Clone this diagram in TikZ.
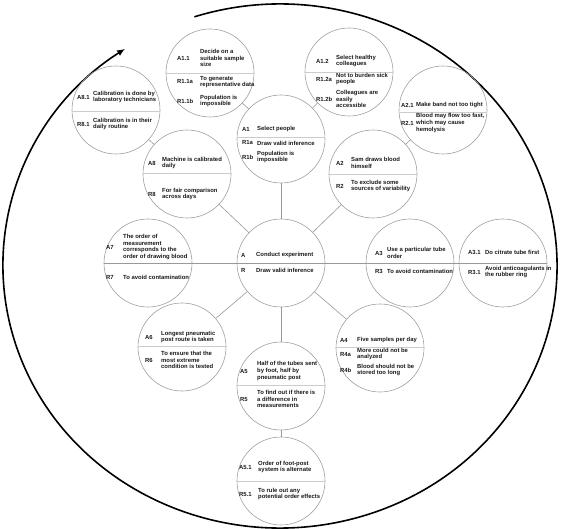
\documentclass[tikz,border=0pt]{standalone}
\usepackage{fontspec}
\setmainfont{Liberation Sans}
\usetikzlibrary{arrows.meta,calc}
\definecolor{circgray}{gray}{0.62}
\definecolor{conngray}{gray}{0.6}
\definecolor{divgray}{gray}{0.8}
\definecolor{txtcol}{gray}{0.1}
\newcommand\crow[7]{\path (#1.center) ++(#2,#4) node[lab] (#7l) {#5};
  \path (#1.center) ++(#3,#4) node[txt] (#7t) {#6};}
\newcommand\cdiv[2]{\begin{scope}\clip (#1.center) circle (44);
  \draw[div] ($(#1.center)+(-46,#2)$) -- ($(#1.center)+(46,#2)$);\end{scope}}
\begin{document}
\begin{tikzpicture}[x=1pt,y=1pt,
  circ/.style={circle,draw=circgray,line width=0.6pt,minimum size=88pt,inner sep=0pt},
  lab/.style={anchor=west,inner sep=0pt,font=\fontsize{5.9}{6.6}\selectfont\bfseries,text=txtcol},
  txt/.style={lab,align=left},
  conn/.style={draw=conngray,line width=0.6pt},
  div/.style={draw=divgray,line width=0.6pt}]
\useasboundingbox (0,0) rectangle (562,528);
% outer arc
\coordinate (oc) at (280,262);
\draw[line width=1.6pt,-{Latex[length=8pt,width=6.5pt]}] (oc) ++(108:277 and 262)
  arc[start angle=108,end angle=-236,x radius=277,y radius=262];
% circles
\node[circ] (C0) at (281,265) {};
\node[circ] (A1) at (281,389) {};
\node[circ] (A11) at (210,455) {};
\node[circ] (A12) at (349,456) {};
\node[circ] (A81) at (116,418) {};
\node[circ] (A8) at (187,354) {};
\node[circ] (A2) at (373,354) {};
\node[circ] (A21) at (443,418) {};
\node[circ] (A7) at (148,265) {};
\node[circ] (A3) at (410,265) {};
\node[circ] (A31) at (503,265) {};
\node[circ] (A6) at (182,181) {};
\node[circ] (A5) at (281,142) {};
\node[circ] (A4) at (380,180) {};
\node[circ] (A51) at (281,47) {};
% connectors
\draw[conn] (A7.west) -- (A31.east);
\draw[conn] (C0) -- (A1);
\draw[conn] (C0) -- (A5);
\draw[conn] (C0) -- (A2);
\draw[conn] (C0) -- (A8);
\draw[conn] (C0) -- (A6);
\draw[conn] (C0) -- (A4);
\draw[conn] (A1) -- (A11);
\draw[conn] (A1) -- (A12);
\draw[conn] (A8) -- (A81);
\draw[conn] (A2) -- (A21);
\draw[conn] (A5) -- (A51);
% dividers
\cdiv{A1}{2}
\cdiv{A11}{0}
\cdiv{A12}{0}
\cdiv{A81}{-1}
\cdiv{A8}{1}
\cdiv{A2}{0}
\cdiv{A21}{-2}
\cdiv{A6}{1}
\cdiv{A5}{1}
\cdiv{A4}{1}
\cdiv{A51}{0}
% texts
\crow{C0}{-40}{-25}{8}{A}{Conduct experiment}{c0a}
\crow{C0}{-40}{-25}{-7}{R}{Draw valid inference}{c0r}
\crow{A1}{-39}{-24}{10}{A1}{Select people}{a1a}
\crow{A1}{-39}{-24}{-4}{R1a}{Draw valid inference}{a1r}
\crow{A1}{-39}{-24}{-18}{R1b}{Population is\\impossible}{a1b}
\crow{A11}{-33}{-10}{15}{A1.1}{Decide on a\\suitable sample\\size}{a11a}
\crow{A11}{-33}{-10}{-9}{R1.1a}{To generate\\representative data}{a11r}
\crow{A11}{-33}{-10}{-28}{R1.1b}{Population is\\impossible}{a11b}
\crow{A12}{-33}{-13}{11}{A1.2}{Select healthy\\colleagues}{a12a}
\crow{A12}{-33}{-13}{-7}{R1.2a}{Not to burden sick\\people}{a12r}
\crow{A12}{-33}{-13}{-27}{R1.2b}{Colleagues are\\easily\\accessible}{a12b}
\crow{A81}{-39}{-23}{13}{A8.1}{Calibration is done by\\laboratory technicians}{a81a}
\crow{A81}{-39}{-23}{-14}{R8.1}{Calibration is in their\\daily routine}{a81r}
\crow{A8}{-39}{-25}{11}{A8}{Machine is calibrated\\daily}{a8a}
\crow{A8}{-39}{-25}{-20}{R8}{For fair comparison\\across days}{a8r}
\crow{A2}{-37}{-22}{11}{A2}{Sam draws blood\\himself}{a2a}
\crow{A2}{-37}{-22}{-12}{R2}{To exclude some\\sources of variability}{a2r}
\crow{A21}{-42}{-27}{5}{A2.1}{Make band not too tight}{a21a}
\crow{A21}{-42}{-27}{-13}{R2.1}{Blood may flow too fast,\\which may cause\\hemolysis}{a21r}
\crow{A7}{-42}{-25}{16}{A7}{The order of\\measurement\\corresponds to the\\order of drawing blood}{a7a}
\crow{A7}{-42}{-25}{-14}{R7}{To avoid contamination}{a7r}
\crow{A3}{-35}{-23}{10}{A3}{Use a particular tube\\order}{a3a}
\crow{A3}{-35}{-23}{-8}{R3}{To avoid contamination}{a3r}
\crow{A31}{-35}{-18}{11}{A3.1}{Do citrate tube first}{a31a}
\crow{A31}{-35}{-18}{-9}{R3.1}{Avoid anticoagulants in\\the rubber ring}{a31r}
\crow{A6}{-37}{-21}{10}{A6}{Longest pneumatic\\post route is taken}{a6a}
\crow{A6}{-37}{-21}{-13}{R6}{To ensure that the\\most extreme\\condition is tested}{a6r}
\crow{A5}{-41}{-24}{15}{A5}{Half of the tubes sent\\by foot, half by\\pneumatic post}{a5a}
\crow{A5}{-41}{-24}{-13}{R5}{To find out if there is\\a difference in\\measurements}{a5r}
\crow{A4}{-40}{-23}{8}{A4}{Five samples per day}{a4a}
\crow{A4}{-40}{-23}{-6}{R4a}{More could not be\\analyzed}{a4r}
\crow{A4}{-40}{-23}{-22}{R4b}{Blood should not be\\stored too long}{a4b}
\crow{A51}{-42}{-23}{14}{A5.1}{Order of foot-post\\system is alternate}{a51a}
\crow{A51}{-42}{-23}{-13}{R5.1}{To rule out any\\potential order effects}{a51r}
\end{tikzpicture}
\end{document}
